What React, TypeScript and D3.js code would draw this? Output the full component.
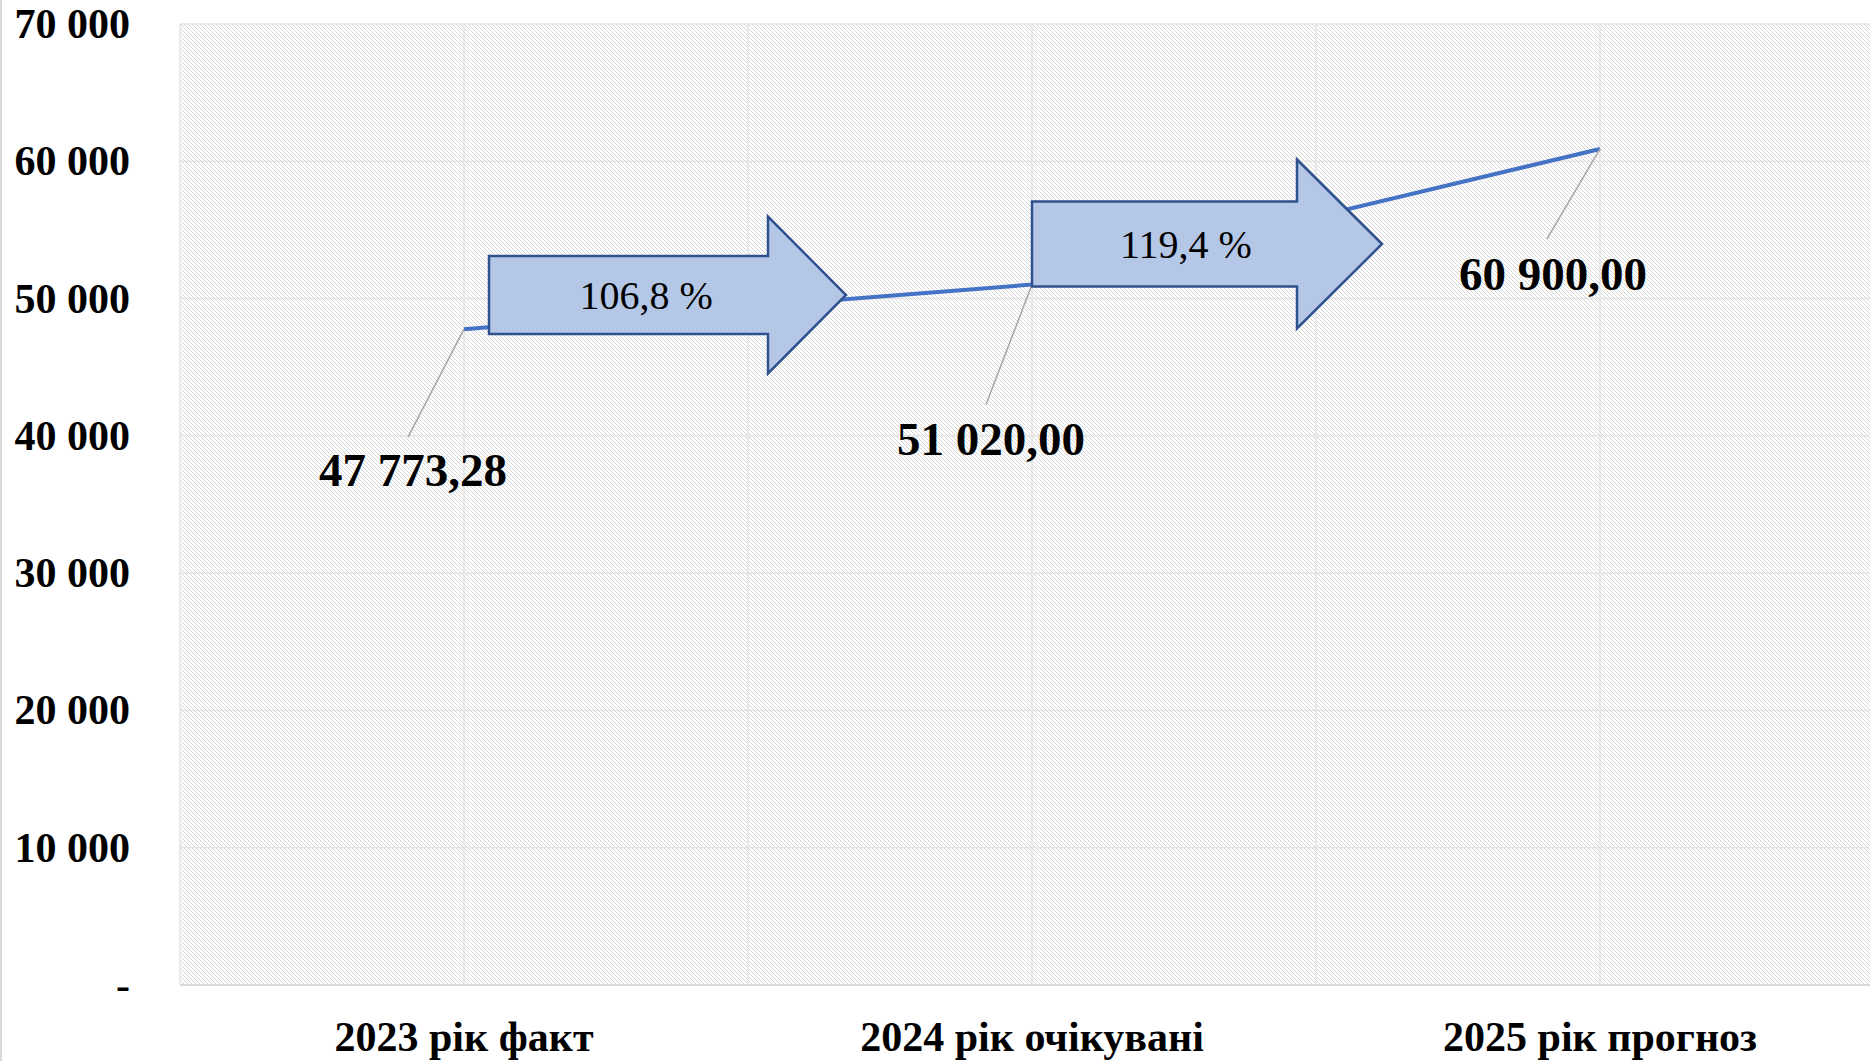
import React from 'react';
import * as d3 from 'd3';

const categories = ['2023 рік факт', '2024 рік очікувані', '2025 рік прогноз'];
const values = [47773.28, 51020.0, 60900.0];
const valueLabels = ['47 773,28', '51 020,00', '60 900,00'];
const yTicks = [0, 10000, 20000, 30000, 40000, 50000, 60000, 70000];
const growthLabels = ['106,8 %', '119,4 %'];
// arrow level on the value axis
const growthLevels = [50260, 53975];

const W = 1870;
const H = 1061;
const plot = { left: 180, top: 24, bottom: 985, band: 568 };

const fmtTick = (d: number) => (d === 0 ? '-' : d3.format(',')(d).replace(/,/g, ' '));

// label and leader offsets from each point
const labelOffsets = [
  { lx: -56, ly: 108, tx: -51, ty: 157 },
  { lx: -46, ly: 120, tx: -41, ty: 170 },
  { lx: -53, ly: 90, tx: -47, ty: 141 },
];

// arrow geometry relative to the category centre it starts from
const arrowShapes = [
  { start: 25, head: 304, tip: 382, body: 78, headH: 157 },
  { start: 0, head: 265, tip: 350, body: 85, headH: 169 },
];

export default function App() {
  const x = d3
    .scaleBand()
    .domain(categories)
    .range([plot.left, plot.left + plot.band * categories.length])
    .padding(0);
  const bw = x.bandwidth();
  const cx = (c: string) => (x(c) as number) + bw / 2;

  const y = d3.scaleLinear().domain([0, 70000]).range([plot.bottom, plot.top]);
  const right = plot.left + plot.band * categories.length;

  const pts = values.map((v, i) => [cx(categories[i]), y(v)] as [number, number]);
  const line = d3.line()(pts);

  // vertical grid at band edges and centres
  const vGrid: number[] = [];
  categories.forEach((c) => {
    vGrid.push(x(c) as number);
    vGrid.push(cx(c));
  });
  vGrid.push(right);

  const arrowPath = (i: number) => {
    const a = arrowShapes[i];
    const x0 = cx(categories[i]) + a.start;
    const xh = cx(categories[i]) + a.head;
    const xt = cx(categories[i]) + a.tip;
    const yc = y(growthLevels[i]);
    return d3.line()([
      [x0, yc - a.body / 2],
      [xh, yc - a.body / 2],
      [xh, yc - a.headH / 2],
      [xt, yc],
      [xh, yc + a.headH / 2],
      [xh, yc + a.body / 2],
      [x0, yc + a.body / 2],
    ]) + 'Z';
  };

  return (
    <svg
      width={W}
      height={H}
      style={{ position: 'absolute', left: 0, top: 0, background: '#fff' }}
      fontFamily="'Liberation Serif', 'Times New Roman', serif"
    >
      <defs>
        <pattern id="hatch" width="4" height="4" patternUnits="userSpaceOnUse">
          <rect width="4" height="4" fill="#fff" />
          <path d="M-1,-1 L5,5 M-1,3 L1,5 M3,-1 L5,1" stroke="#d6d6d6" strokeWidth="1" />
        </pattern>
      </defs>

      <line x1={1} x2={1} y1={0} y2={H} stroke="#d9d9d9" strokeWidth={2} />

      <rect
        x={plot.left}
        y={plot.top}
        width={right - plot.left}
        height={plot.bottom - plot.top}
        fill="url(#hatch)"
      />

      {yTicks.map((t) => (
        <line key={'h' + t} x1={plot.left} x2={right} y1={y(t)} y2={y(t)} stroke="#e3e3e3" strokeWidth={1.5} />
      ))}
      {vGrid.map((g, i) => (
        <line key={'v' + i} x1={g} x2={g} y1={plot.top} y2={plot.bottom} stroke="#e3e3e3" strokeWidth={1.5} />
      ))}
      <line x1={plot.left} x2={right} y1={plot.bottom} y2={plot.bottom} stroke="#d9d9d9" strokeWidth={2} />

      {yTicks.map((t) => (
        <text key={'t' + t} x={130} y={y(t)} dy={14} textAnchor="end" fontSize={42} fontWeight="bold">
          {fmtTick(t)}
        </text>
      ))}

      {categories.map((c) => (
        <text key={c} x={cx(c)} y={1051} textAnchor="middle" fontSize={42} fontWeight="bold">
          {c}
        </text>
      ))}

      <path d={line as string} fill="none" stroke="#4472c4" strokeWidth={4} strokeLinejoin="round" />

      {pts.map((p, i) => {
        const o = labelOffsets[i];
        return (
          <g key={'l' + i}>
            <line x1={p[0]} y1={p[1]} x2={p[0] + o.lx} y2={p[1] + o.ly} stroke="#a6a6a6" strokeWidth={1.5} />
            <text x={p[0] + o.tx} y={p[1] + o.ty} textAnchor="middle" fontSize={47} fontWeight="bold">
              {valueLabels[i]}
            </text>
          </g>
        );
      })}

      {growthLabels.map((g, i) => {
        const a = arrowShapes[i];
        const mid = cx(categories[i]) + a.start + (a.tip - a.start) * 0.44;
        return (
          <g key={'a' + i}>
            <path d={arrowPath(i)} fill="#b4c7e7" stroke="#2f528f" strokeWidth={2.5} strokeLinejoin="miter" />
            <text x={mid} y={y(growthLevels[i])} dy={14} textAnchor="middle" fontSize={40}>
              {g}
            </text>
          </g>
        );
      })}
    </svg>
  );
}
